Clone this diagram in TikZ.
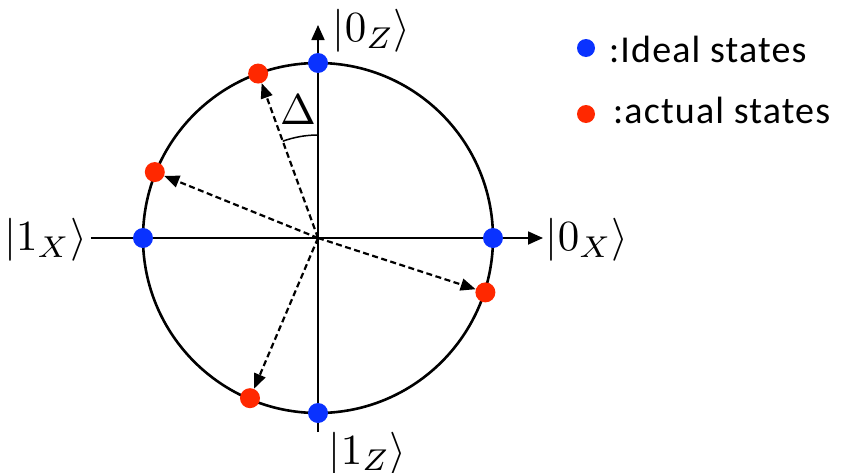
\documentclass[tikz,border=0pt]{standalone}
\usepackage{fontspec}
\newfontfamily\legendfont[LetterSpace=3]{Carlito}
\usetikzlibrary{arrows.meta}
\definecolor{idealblue}{RGB}{10,50,255}
\definecolor{actualred}{RGB}{255,40,0}

\begin{document}
\begin{tikzpicture}[
    x=1pt, y=1pt,
    dot/.style={circle, inner sep=0pt, minimum size=20pt},
    ideal/.style={dot, fill=idealblue},
    actual/.style={dot, fill=actualred},
    axis/.style={line width=1.8pt, -{Triangle[length=15pt,width=13pt]}},
    tilt/.style={line width=2.2pt, dash pattern=on 6pt off 3.5pt, -{Triangle[length=15pt,width=12pt]}},
    ket/.style={font=\fontsize{10}{12}\selectfont, inner sep=0pt, scale=4.3, transform shape},
    legend/.style={font=\legendfont\fontsize{38}{44}\selectfont, anchor=base west, inner sep=0pt}
]
\useasboundingbox (-318,-234) rectangle (539,238);

% Bloch circle and axes
\coordinate (O) at (0,0);
\draw[line width=2.6pt] (O) circle[radius=175];
\coordinate (xstart) at (-227,0);
\coordinate (xend) at (225,0);
\coordinate (zstart) at (0,-194);
\coordinate (zend) at (0,213);
\draw[axis] (xstart) -- (xend);
\draw[axis] (zstart) -- (zend);

% Ideal states
\node[ideal] (z0) at (90:175) {};
\node[ideal] (z1) at (270:175) {};
\node[ideal] (x0) at (0:175) {};
\node[ideal] (x1) at (180:175) {};

% Actual states
\node[actual] (az0) at (110:175) {};
\node[actual] (ax1) at (158:176) {};
\node[actual] (ax0) at (-18:176) {};
\node[actual] (az1) at (247:174) {};
\draw[tilt] (O) -- (az0);
\draw[tilt] (O) -- (ax1);
\draw[tilt] (O) -- (ax0);
\draw[tilt] (O) -- (az1);

% Misalignment angle
\draw[line width=1.5pt] (90:103) arc[start angle=90, end angle=110, radius=103];
\node[ket] (delta) at (-20,128) {$\Delta$};

% Basis labels
\node[ket, anchor=west] (lz0) at (14,207) {$|0_Z\rangle$};
\node[ket, anchor=north west] (lz1) at (10,-193) {$|1_Z\rangle$};
\node[ket, anchor=west] (lx0) at (227,-2) {$|0_X\rangle$};
\node[ket, anchor=east] (lx1) at (-230,-2) {$|1_X\rangle$};

% Legend
\node[ideal, minimum size=18pt] (kideal) at (268,190) {};
\node[legend] (tideal) at (291,176) {:Ideal states};
\node[actual, minimum size=18pt] (kactual) at (268,124) {};
\node[legend] (tactual) at (295,115) {:actual states};
\end{tikzpicture}
\end{document}
